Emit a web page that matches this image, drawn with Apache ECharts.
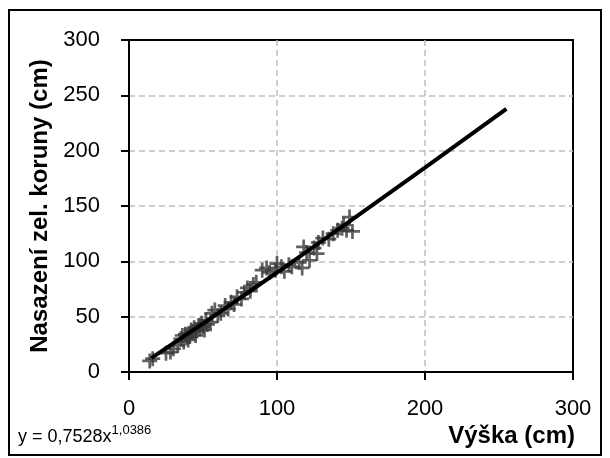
<!DOCTYPE html>
<html>
<head>
<meta charset="utf-8">
<script src="https://cdn.jsdelivr.net/npm/echarts@6/dist/echarts.min.js"></script>
<style>
  html, body { margin: 0; padding: 0; background: #fff; }
  #chart { width: 610px; height: 458px; }
</style>
</head>
<body>
<div id="chart"></div>
<script>
  // measured points (height x, crown base y)
  const heightX = [14, 16, 25, 28, 30, 33, 35, 36, 37, 38, 39, 40, 41, 41, 42, 43, 44, 45, 46, 47,
    48, 49, 50, 51, 52, 53, 55, 56, 58, 60, 62, 65, 67, 69, 71, 73, 76, 78, 80, 82,
    84, 86, 90, 93, 95, 99, 100, 103, 105, 108, 110, 115, 117, 118, 120, 122, 125, 127, 128, 131,
    135, 138, 141, 144, 145, 147, 149, 151];
  const crownY = [10, 12, 17, 18, 21, 24, 30, 33, 27, 34, 31, 29, 35, 32, 38, 36, 40, 33, 37, 42,
    39, 44, 41, 38, 47, 43, 45, 53, 56, 51, 53, 60, 57, 63, 61, 68, 66, 72, 76, 73,
    79, 81, 92, 94, 90, 92, 98, 95, 91, 97, 95, 99, 94, 113, 108, 101, 112, 107, 117, 121,
    120, 125, 128, 130, 133, 128, 140, 127];

  // trend line y = 0,7528x^1,0386 (values precomputed)
  const fitX = [15, 50, 100, 150, 200, 255];
  const fitY = [12.5, 43.8, 89.9, 137.0, 184.7, 237.8];

  const xTicks = [0, 100, 200, 300];
  const yTicks = [0, 50, 100, 150, 200, 250, 300];

  const myChart = echarts.init(document.getElementById('chart'));
  const plus = 'path://M4.1,0H5.9V4.1H10V5.9H5.9V10H4.1V5.9H0V4.1H4.1Z';
  const font = 'Liberation Sans, Arial, sans-serif';

  myChart.setOption({
    animation: false,
    textStyle: { fontFamily: font },
    grid: {
      left: 129,
      right: 37,
      top: 40,
      bottom: 86,
      show: true,
      borderColor: '#000',
      borderWidth: 2,
    },
    xAxis: {
      type: 'value',
      min: xTicks[0],
      max: xTicks[xTicks.length - 1],
      interval: 100,
      axisLine: { lineStyle: { color: '#000', width: 2 } },
      axisTick: { show: true, inside: false, length: 8, lineStyle: { color: '#000', width: 2 } },
      axisLabel: { color: '#000', fontSize: 22, margin: 26 },
      splitLine: {
        showMaxLine: false,
        lineStyle: { color: '#bfbfbf', type: [6, 4], width: 1.5 },
      },
      name: 'Výška (cm)',
      nameLocation: 'end',
      nameGap: 2,
      nameTextStyle: {
        color: '#000',
        fontSize: 24,
        fontWeight: 'bold',
        align: 'right',
        verticalAlign: 'top',
        padding: [52, 0, 0, 0],
      },
    },
    yAxis: {
      type: 'value',
      min: yTicks[0],
      max: yTicks[yTicks.length - 1],
      interval: 50,
      axisLine: { lineStyle: { color: '#000', width: 2 } },
      axisTick: { show: true, inside: false, length: 8, lineStyle: { color: '#000', width: 2 } },
      axisLabel: { color: '#000', fontSize: 22, margin: 29 },
      splitLine: {
        showMaxLine: false,
        lineStyle: { color: '#bfbfbf', type: [6, 4], width: 1.5 },
      },
      name: 'Nasazení zel. koruny (cm)',
      nameLocation: 'middle',
      nameGap: 76,
      nameTextStyle: { color: '#000', fontSize: 24, fontWeight: 'bold' },
    },
    graphic: [
      {
        type: 'rect',
        silent: true,
        shape: { x: 9, y: 10, width: 592, height: 445 },
        style: { fill: 'none', stroke: '#000', lineWidth: 2 },
      },
      {
        type: 'text',
        left: 18,
        top: 424,
        style: {
          text: '{a|y = 0,7528x}{b|1,0386}',
          rich: {
            a: { fontSize: 18, fill: '#000', fontFamily: font, verticalAlign: 'bottom' },
            b: { fontSize: 13, fill: '#000', fontFamily: font, verticalAlign: 'top', padding: [0, 0, 9, 0] },
          },
        },
      },
    ],
    series: [
      {
        type: 'scatter',
        data: heightX.map((x, i) => [x, crownY[i]]),
        symbol: plus,
        symbolSize: 15,
        itemStyle: { color: '#3a3a3a' },
        z: 2,
      },
      {
        type: 'line',
        data: fitX.map((x, i) => [x, fitY[i]]),
        showSymbol: false,
        symbol: 'none',
        lineStyle: { color: '#000', width: 4 },
        z: 3,
      },
    ],
  });
</script>
</body>
</html>
